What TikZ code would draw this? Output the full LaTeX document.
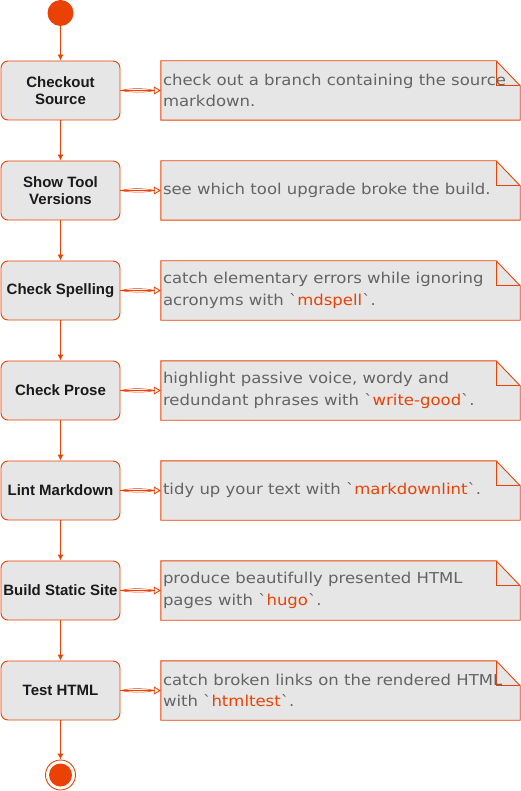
\documentclass[tikz,border=0pt]{standalone}
\usepackage{fontspec}
\setmainfont{Liberation Sans}
\newfontfamily\notefont[FakeStretch=1.1]{DejaVu Sans}
\usetikzlibrary{arrows.meta,calc}
\definecolor{orng}{RGB}{234,66,4}
\definecolor{boxfill}{RGB}{230,230,230}
\definecolor{notetext}{RGB}{100,100,100}
\definecolor{boxtext}{RGB}{26,26,26}
\tikzset{
  stepbox/.style={draw=orng, fill=boxfill, rounded corners=7pt, minimum width=119pt, minimum height=59pt, inner sep=0pt, align=center, font=\fontsize{15}{17.5}\selectfont\bfseries, text=boxtext, line width=0.9pt},
  notebox/.style={minimum width=359pt, minimum height=59pt, inner sep=0pt},
  notepath/.style={draw=orng, fill=boxfill, line width=0.9pt},
  notetxt/.style={anchor=west, align=left, inner sep=0pt, font=\notefont\fontsize{15}{21.5}\selectfont, text=notetext},
  flow/.style={draw=orng, line width=0.9pt, -{Latex[length=6pt,width=6pt]}},
  noteline/.style={draw=orng, line width=0.9pt, -{Triangle[open,length=7pt,width=8pt]}},
  sketch/.style={draw=orng, line width=0.5pt},
}
\newcommand{\hl}[1]{\textcolor{orng}{#1}}
\begin{document}
\begin{tikzpicture}[x=1pt,y=-1pt]
\useasboundingbox (0,0) rectangle (521,791);
% start
\node[circle, fill=orng, minimum size=26pt, inner sep=0pt] (start) at (60.5,13) {};
% steps
\node[stepbox] (s1) at (60.5,90.5) {Checkout\\Source};
\node[stepbox] (s2) at (60.5,190.5) {Show Tool\\Versions};
\node[stepbox] (s3) at (60.5,290.5) {Check Spelling};
\node[stepbox] (s4) at (60.5,390.5) {Check Prose};
\node[stepbox] (s5) at (60.5,490.5) {Lint Markdown};
\node[stepbox] (s6) at (60.5,590.5) {Build Static Site};
\node[stepbox] (s7) at (60.5,690.5) {Test HTML};
% end
\node[circle, draw=orng, line width=0.9pt, minimum size=30pt, inner sep=0pt] (end) at (60.5,775) {};
\node[circle, fill=orng, minimum size=23pt, inner sep=0pt] (endin) at (end.center) {};
% notes
\foreach \i/\y in {1/90.5,2/190.5,3/290.5,4/390.5,5/490.5,6/590.5,7/690.5}{
  \node[notebox] (n\i) at (340.5,\y) {};
  \path[notepath] (n\i.north west) -- ($(n\i.north east)+(-24,0)$) -- ($(n\i.north east)+(0,25)$) -- (n\i.south east) -- (n\i.south west) -- cycle;
  \draw[orng, line width=0.9pt] ($(n\i.north east)+(-24,0)$) -- ($(n\i.north east)+(-24,25)$) -- ($(n\i.north east)+(0,25)$);
}
\node[notetxt] (t1) at ($(n1.west)+(2,0)$) {check out a branch containing the source\\markdown.};
\node[notetxt] (t2) at ($(n2.west)+(2,0)$) {see which tool upgrade broke the build.};
\node[notetxt] (t3) at ($(n3.west)+(2,0)$) {catch elementary errors while ignoring\\acronyms with `\hl{mdspell}`.};
\node[notetxt] (t4) at ($(n4.west)+(2,0)$) {highlight passive voice, wordy and\\redundant phrases with `\hl{write-good}`.};
\node[notetxt] (t5) at ($(n5.west)+(2,0)$) {tidy up your text with `\hl{markdownlint}`.};
\node[notetxt] (t6) at ($(n6.west)+(2,0)$) {produce beautifully presented HTML\\pages with `\hl{hugo}`.};
\node[notetxt] (t7) at ($(n7.west)+(2,0)$) {catch broken links on the rendered HTML\\with `\hl{htmltest}`.};
% flow arrows
\draw[flow] (start) -- (s1);
\draw[flow] (s1) -- (s2);
\draw[flow] (s2) -- (s3);
\draw[flow] (s3) -- (s4);
\draw[flow] (s4) -- (s5);
\draw[flow] (s5) -- (s6);
\draw[flow] (s6) -- (s7);
\draw[flow] (s7) -- (end);
% note arrows
\foreach \i in {1,...,7}{
  \draw[noteline] (s\i.east) -- (n\i.west);
  \draw[sketch] (s\i.east) .. controls ($(s\i.east)+(12,-3)$) and ($(n\i.west)+(-14,-2)$) .. ($(n\i.west)+(-6,0)$);
  \draw[sketch] (s\i.east) .. controls ($(s\i.east)+(12,2.5)$) and ($(n\i.west)+(-14,2)$) .. ($(n\i.west)+(-6,0)$);
}
\end{tikzpicture}
\end{document}
